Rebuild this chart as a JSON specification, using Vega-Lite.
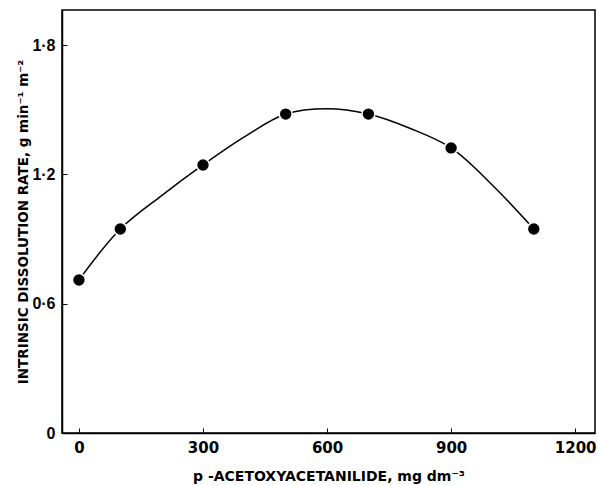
{
  "$schema": "https://vega.github.io/schema/vega-lite/v6.json",
  "autosize": "none",
  "width": 533,
  "height": 423,
  "padding": {"left": 62, "top": 10, "right": 3, "bottom": 52},
  "background": "white",
  "config": {
    "view": {"stroke": "black", "strokeWidth": 1.5},
    "font": "DejaVu Sans",
    "axis": {
      "domainColor": "black",
      "domainWidth": 1.5,
      "tickColor": "black",
      "tickWidth": 1,
      "grid": false,
      "labelColor": "black",
      "titleColor": "black",
      "labelFont": "DejaVu Sans",
      "titleFont": "DejaVu Sans",
      "labelFontSize": 15,
      "labelFontWeight": "bold",
      "titleFontSize": 14,
      "titleFontWeight": "bold"
    }
  },
  "datasets": {
    "points": [
      {"conc": 0, "rate": 0.71},
      {"conc": 100, "rate": 0.947},
      {"conc": 300, "rate": 1.244},
      {"conc": 500, "rate": 1.48},
      {"conc": 700, "rate": 1.48},
      {"conc": 900, "rate": 1.323},
      {"conc": 1100, "rate": 0.947}
    ],
    "curve": [
      {"conc": 0, "rate": 0.71},
      {"conc": 100, "rate": 0.947},
      {"conc": 200, "rate": 1.102},
      {"conc": 300, "rate": 1.244},
      {"conc": 400, "rate": 1.374},
      {"conc": 500, "rate": 1.48},
      {"conc": 600, "rate": 1.505},
      {"conc": 700, "rate": 1.48},
      {"conc": 800, "rate": 1.414},
      {"conc": 900, "rate": 1.323},
      {"conc": 1000, "rate": 1.15},
      {"conc": 1100, "rate": 0.947}
    ]
  },
  "encoding": {
    "x": {
      "field": "conc",
      "type": "quantitative",
      "scale": {"domain": [-41, 1248], "nice": false, "zero": false},
      "axis": {
        "values": [0, 300, 600, 900, 1200],
        "format": "d",
        "tickSize": -5,
        "labelPadding": 12,
        "title": "p -ACETOXYACETANILIDE,  mg dm⁻³",
        "titlePadding": 14
      }
    },
    "y": {
      "field": "rate",
      "type": "quantitative",
      "scale": {"domain": [0, 1.963], "nice": false},
      "axis": {
        "values": [0, 0.6, 1.2, 1.8],
        "tickSize": -5,
        "labelPadding": 12,
        "labelFont": "Liberation Sans",
        "labelFontSize": 16,
        "labelExpr": "datum.value == 0 ? '0' : replace(format(datum.value, '.1f'), '.', '·')",
        "title": "INTRINSIC  DISSOLUTION  RATE,   g min⁻¹  m⁻²",
        "titleFontSize": 13.5,
        "titlePadding": 1
      }
    }
  },
  "layer": [
    {
      "data": {"name": "curve"},
      "mark": {"type": "line", "interpolate": "catmull-rom", "color": "black", "strokeWidth": 1.5}
    },
    {
      "data": {"name": "points"},
      "mark": {"type": "point", "filled": true, "color": "black", "size": 130, "stroke": "white", "strokeWidth": 3, "opacity": 1, "strokeOpacity": 1}
    },
    {
      "data": {"name": "points"},
      "mark": {"type": "point", "filled": true, "color": "black", "size": 130, "opacity": 1}
    }
  ]
}
